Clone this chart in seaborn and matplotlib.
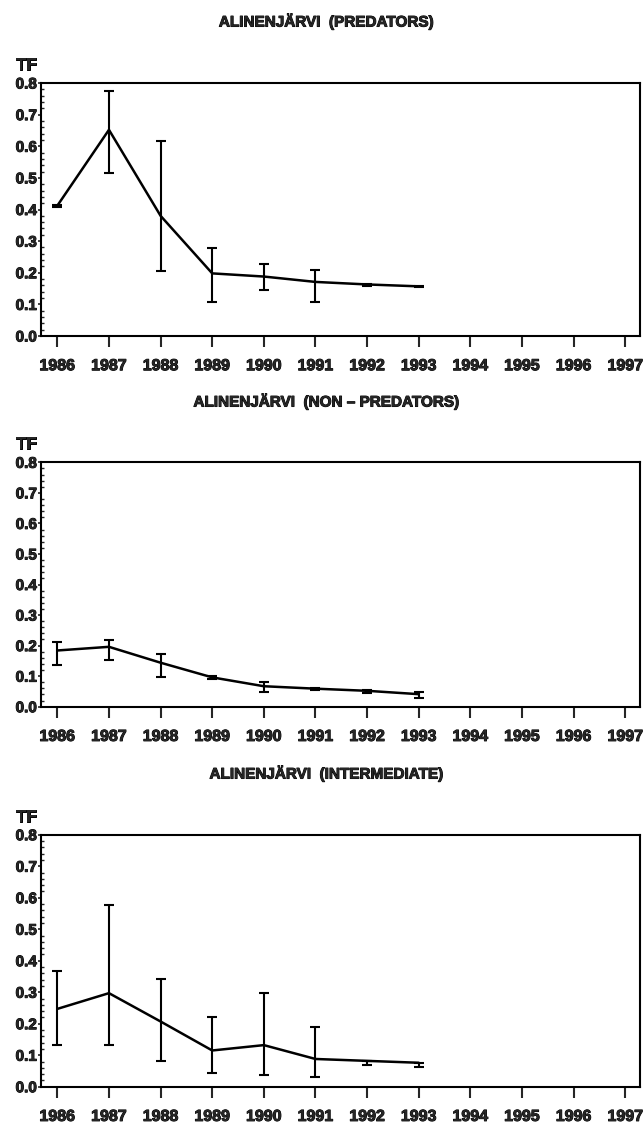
import numpy as np
import pandas as pd
import matplotlib
matplotlib.use("Agg")
import matplotlib.pyplot as plt
import matplotlib.patheffects as pe
from matplotlib.ticker import MultipleLocator, FixedLocator
import seaborn as sns

sns.set_style("ticks")
plt.rcParams['font.family'] = ['Liberation Sans', 'DejaVu Sans']

# ---- data ----
all_years = list(range(1986, 1998))
years = [1986, 1987, 1988, 1989, 1990, 1991, 1992, 1993]

titles = ["ALINENJÄRVI  (PREDATORS)",
          "ALINENJÄRVI  (NON – PREDATORS)",
          "ALINENJÄRVI  (INTERMEDIATE)"]

pred_mean  = [0.412, 0.652, 0.380, 0.198, 0.188, 0.171, 0.163, 0.157]
pred_low   = [0.409, 0.514, 0.207, 0.106, 0.144, 0.106, 0.157, 0.155]
pred_high  = [0.414, 0.776, 0.616, 0.277, 0.228, 0.208, 0.163, 0.158]

non_mean   = [0.184, 0.196, 0.144, 0.096, 0.067, 0.059, 0.052, 0.041]
non_low    = [0.137, 0.152, 0.098, 0.092, 0.047, 0.055, 0.046, 0.027]
non_high   = [0.211, 0.217, 0.171, 0.100, 0.080, 0.061, 0.055, 0.048]

int_mean   = [0.247, 0.297, 0.207, 0.115, 0.132, 0.088, 0.082, 0.076]
int_low    = [0.132, 0.132, 0.082, 0.042, 0.036, 0.030, 0.068, 0.062]
int_high   = [0.367, 0.577, 0.343, 0.222, 0.297, 0.189, 0.082, 0.076]

y_ticks = [0.0, 0.1, 0.2, 0.3, 0.4, 0.5, 0.6, 0.7, 0.8]
y_ticklabels = ["0.0", "0.1", "0.2", "0.3", "0.4", "0.5", "0.6", "0.7", "0.8"]

series = [(pred_mean, pred_low, pred_high),
          (non_mean, non_low, non_high),
          (int_mean, int_low, int_high)]

heavy = [pe.withStroke(linewidth=0.7, foreground="black")]

# ---- layout (figure fractions) ----
W, H = 643, 1126
fig = plt.figure(figsize=(W / 100, H / 100), dpi=100)

left_px, right_px = 41, 639.5
panels_px = [(83, 336), (462.3, 706.7), (834.7, 1086.7)]
title_y_px = [22, 402, 774]
tf_y_px = [65, 444, 817]

for i, ((top, bot), (m, lo, hi)) in enumerate(zip(panels_px, series)):
    ax = fig.add_axes([left_px / W, 1 - bot / H, (right_px - left_px) / W, (bot - top) / H])
    df = pd.DataFrame({"year": years, "TF": m})
    sns.lineplot(data=df, x="year", y="TF", ax=ax, color="black", linewidth=1.8,
                 errorbar=None)
    m_a, lo_a, hi_a = np.array(m), np.array(lo), np.array(hi)
    ax.errorbar(years, m_a, yerr=[m_a - lo_a, hi_a - m_a], fmt="none",
                ecolor="black", elinewidth=1.5, capsize=3.5, capthick=1.5)

    ax.set_xlim(1985.684, 1997.275)
    ax.set_ylim(0.0, 0.8)
    ax.xaxis.set_major_locator(FixedLocator(all_years))
    ax.set_xticklabels([str(y) for y in all_years], fontsize=11.5, fontweight="bold")
    ax.set_yticks(y_ticks)
    ax.set_yticklabels(y_ticklabels, fontsize=11, fontweight="bold")
    for t in ax.get_xticklabels() + ax.get_yticklabels():
        t.set_path_effects(heavy)
    ax.yaxis.set_minor_locator(MultipleLocator(0.02))
    ax.tick_params(axis="x", which="major", direction="out", length=8, width=1.5,
                   pad=8, bottom=True, top=False)
    ax.tick_params(axis="y", which="major", direction="out", length=2, width=1.2,
                   pad=1, left=True, right=False)
    ax.tick_params(axis="y", which="minor", direction="in", length=2.5, width=1.0,
                   left=True, right=False)
    ax.tick_params(axis="x", which="minor", bottom=False)
    for s in ax.spines.values():
        s.set_visible(True)
        s.set_linewidth(1.5)
        s.set_color("black")
    ax.set_xlabel("")
    ax.set_ylabel("")

    fig.text(326 / W, 1 - title_y_px[i] / H, titles[i], ha="center", va="center",
             fontsize=11, fontweight="bold", path_effects=heavy)
    fig.text(16 / W, 1 - tf_y_px[i] / H, "TF", ha="left", va="center",
             fontsize=12, fontweight="bold", path_effects=heavy)

fig.savefig("out.png", dpi=100)
